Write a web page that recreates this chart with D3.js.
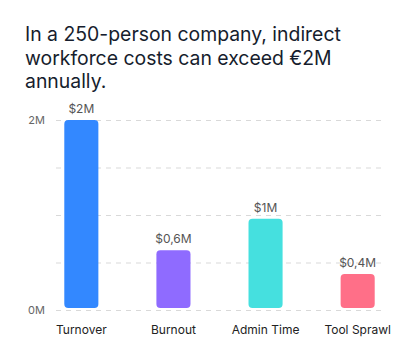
<!DOCTYPE html>
<html>
<head>
<meta charset="utf-8">
<script src="https://cdn.jsdelivr.net/npm/d3@7"></script>
<style>
  body { margin: 0; background: #fff; }
  svg { display: block; font-family: Inter, "Noto Sans", sans-serif; }
</style>
</head>
<body>
<div id="chart"></div>
<script>
// Chart data
const categories = ['Turnover', 'Burnout', 'Admin Time', 'Tool Sprawl'];
const values = [2.0, 0.63, 0.96, 0.38];          // millions
const valueLabels = ['$2M', '$0,6M', '$1M', '$0,4M'];
const colors = ['#3388ff', '#8f6bff', '#45e0df', '#ff6f88'];
const gridTicks = [0, 0.5, 1, 1.5, 2];
const labelTicks = [0, 2];
const titleLines = ['In a 250-person company, indirect', 'workforce costs can exceed €2M', 'annually.'];

const width = 412, height = 360;
const svg = d3.select('#chart').append('svg')
    .attr('width', width)
    .attr('height', height);

// Title
svg.append('g').selectAll('text')
    .data(titleLines)
    .join('text')
    .attr('x', 25)
    .attr('y', (d, i) => 41 + i * 23.5)
    .attr('font-size', '19.4px')
    .attr('fill', '#161d2d')
    .text(d => d);

// Scales
const x = d3.scaleBand()
    .domain(categories)
    .range([56, 383])
    .paddingInner(0.63)
    .paddingOuter(0.09);

const y = d3.scaleLinear()
    .domain([0, 2])
    .range([310, 120]);

// Grid lines
svg.append('g').selectAll('line')
    .data(gridTicks)
    .join('line')
    .attr('x1', 56)
    .attr('x2', 383)
    .attr('y1', d => y(d) + 0.5)
    .attr('y2', d => y(d) + 0.5)
    .attr('stroke', '#d9d9d9')
    .attr('stroke-dasharray', '5,5');

// Y labels
svg.append('g').selectAll('text')
    .data(labelTicks)
    .join('text')
    .attr('x', 45)
    .attr('y', d => y(d))
    .attr('dy', '0.35em')
    .attr('text-anchor', 'end')
    .attr('font-size', '11px')
    .attr('fill', '#666')
    .text(d => d + 'M');

// Bars
svg.append('g').selectAll('path')
    .data(categories)
    .join('path')
    .attr('d', (d, i) => {
        const x0 = x(d), w = x.bandwidth();
        const top = y(values[i]), bottom = y(0) - 2;
        const r = 4;
        return `M${x0},${bottom - r}
            V${top + r} Q${x0},${top} ${x0 + r},${top}
            H${x0 + w - r} Q${x0 + w},${top} ${x0 + w},${top + r}
            V${bottom - r} Q${x0 + w},${bottom} ${x0 + w - r},${bottom}
            H${x0 + r} Q${x0},${bottom} ${x0},${bottom - r} Z`;
    })
    .attr('fill', (d, i) => colors[i]);

// Value labels
svg.append('g').selectAll('text')
    .data(categories)
    .join('text')
    .attr('x', d => x(d) + x.bandwidth() / 2)
    .attr('y', (d, i) => y(values[i]) - 7)
    .attr('text-anchor', 'middle')
    .attr('font-size', '12px')
    .attr('fill', '#555')
    .text((d, i) => valueLabels[i]);

// Category labels
svg.append('g').selectAll('text')
    .data(categories)
    .join('text')
    .attr('x', d => x(d) + x.bandwidth() / 2)
    .attr('y', 334)
    .attr('text-anchor', 'middle')
    .attr('font-size', '12px')
    .attr('fill', '#222')
    .text(d => d);
</script>
</body>
</html>
